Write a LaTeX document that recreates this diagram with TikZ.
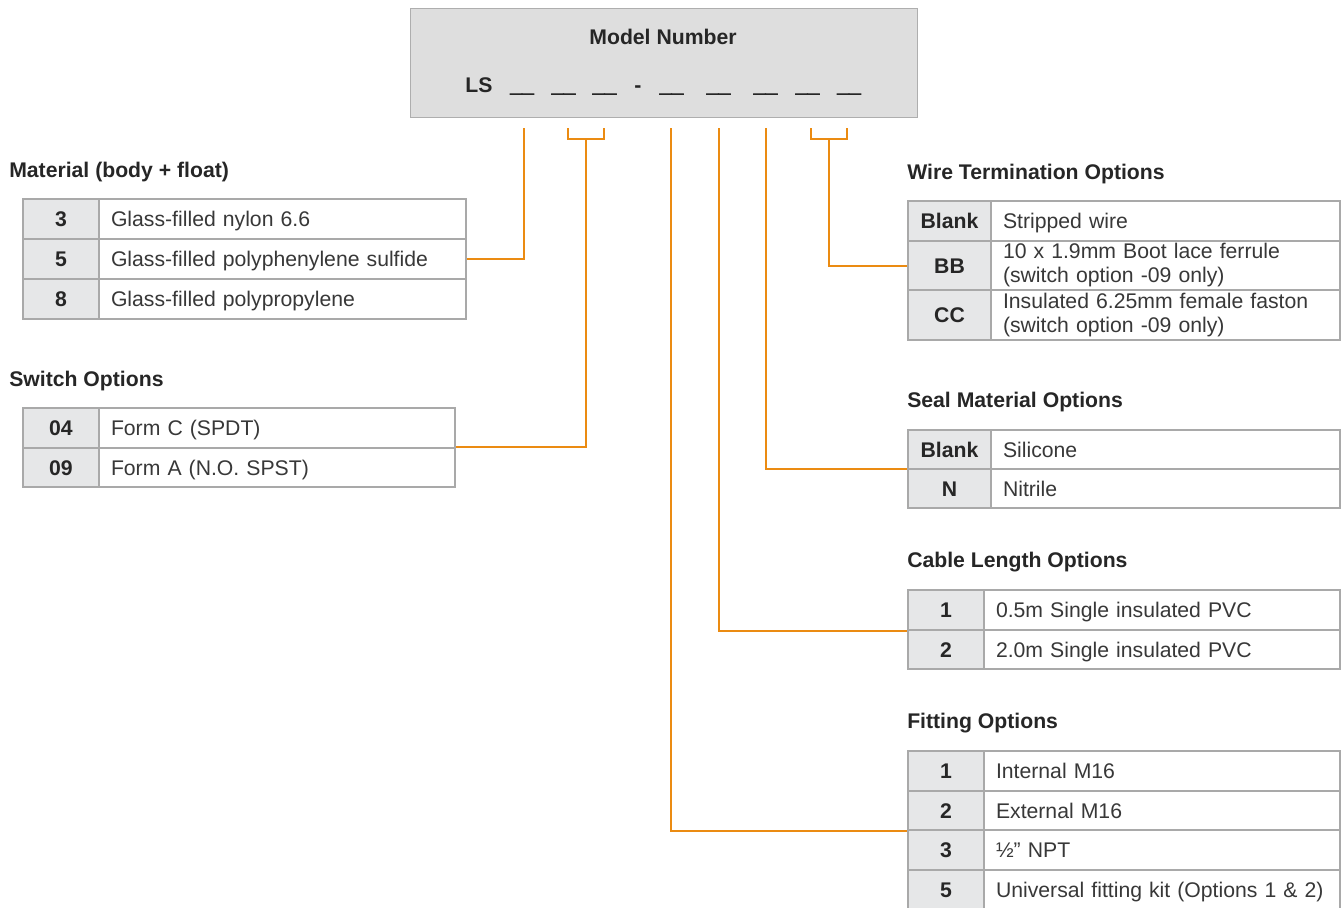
\documentclass[tikz,border=0pt]{standalone}
\usepackage{fontspec}
\setmainfont{Liberation Sans}
\newfontfamily\ulfont[FakeBold=3]{Liberation Sans Bold}
\definecolor{conncol}{HTML}{EB8B12}
\definecolor{bordercol}{HTML}{A9A9A9}
\definecolor{keyfill}{HTML}{E6E7E8}
\definecolor{boxfill}{HTML}{DEDEDE}
\definecolor{boxline}{HTML}{AEAEAE}
\definecolor{txtcol}{HTML}{383838}
\definecolor{hdrcol}{HTML}{262626}
\newcommand\fsz{\fontsize{15.9}{18}\selectfont}
\newcommand\trow[8]{%
  \pgfmathsetlengthmacro\kw{(#3-#2)*0.75pt}%
  \pgfmathsetlengthmacro\rh{(#6-#5)*0.75pt}%
  \pgfmathsetlengthmacro\tw{(#4-#3)*0.75pt-18pt}%
  \node[keycell, minimum width=\kw, minimum height=\rh, anchor=north west] (#1k) at (#2,#5) {#7};
  \node[valcell, text height=11.4pt, text depth=0pt, text width=\tw, minimum height=\rh, anchor=north west] (#1v) at (#3,#5) {#8};
}
\newcommand\trowtwo[8]{%
  \pgfmathsetlengthmacro\kw{(#3-#2)*0.75pt}%
  \pgfmathsetlengthmacro\rh{(#6-#5)*0.75pt}%
  \pgfmathsetlengthmacro\tw{(#4-#3)*0.75pt-18pt}%
  \node[keycell, minimum width=\kw, minimum height=\rh, anchor=north west] (#1k) at (#2,#5) {#7};
  \node[valcell, text width=\tw, minimum height=\rh, anchor=north west] (#1v) at (#3,#5) {#8};
}
\begin{document}
\begin{tikzpicture}[x=0.75pt,y=-0.75pt,
  keycell/.style={draw=bordercol, line width=1.5pt, fill=keyfill, inner sep=0pt,
    font=\fsz\bfseries, text=hdrcol, text height=11.4pt, text depth=0pt},
  valcell/.style={draw=bordercol, line width=1.5pt, fill=white, inner xsep=9pt, inner ysep=0pt,
    align=left, font=\fsz, text=txtcol},
  heading/.style={anchor=base west, inner sep=0pt, font=\fsz\bfseries, text=hdrcol},
  modeltxt/.style={anchor=base, inner sep=0pt, font=\fsz\bfseries, text=hdrcol},
  blank/.style={anchor=base, inner sep=0pt, font=\fsz\ulfont, text=hdrcol},
  conn/.style={draw=conncol, line width=1.5pt}]
\useasboundingbox (0,0) rectangle (1341,907);
\clip (0,0) rectangle (1341,907);

% model number box
\node[draw=boxline, fill=boxfill, line width=1.1pt, minimum width=380.25pt, minimum height=81.75pt,
  anchor=north west, inner sep=0pt] (model) at (410,8) {};
\node[modeltxt] (mtitle) at (663,44) {Model Number};
\node[modeltxt] (ls) at (479,92) {LS};
\node[blank] (b1) at (522,92) {\_\_};
\node[blank] (b2) at (563.5,92) {\_\_};
\node[blank] (b3) at (604.5,92) {\_\_};
\node[modeltxt] (dash) at (638,92) {-};
\node[blank] (b4) at (671.5,92) {\_\_};
\node[blank] (b5) at (718.5,92) {\_\_};
\node[blank] (b6) at (765.5,92) {\_\_};
\node[blank] (b7) at (807.5,92) {\_\_};
\node[blank] (b8) at (849,92) {\_\_};

% headings
\node[heading] (hmat) at (9,177) {Material (body + float)};
\node[heading] (hsw) at (9,386) {Switch Options};
\node[heading] (hwire) at (907,179) {Wire Termination Options};
\node[heading] (hseal) at (907,407) {Seal Material Options};
\node[heading] (hcab) at (907,567) {Cable Length Options};
\node[heading] (hfit) at (907,728) {Fitting Options};

% tables
\trow{m3}{22}{98}{465}{198}{238}{3}{Glass-filled nylon 6.6}
\trow{m5}{22}{98}{465}{238}{278}{5}{Glass-filled polyphenylene sulfide}
\trow{m8}{22}{98}{465}{278}{318}{8}{Glass-filled polypropylene}

\trow{s04}{22}{98}{454}{407}{447}{04}{Form C (SPDT)}
\trow{s09}{22}{98}{454}{447}{486}{09}{Form A (N.O. SPST)}

\trow{wbl}{907}{990}{1339}{200}{240}{Blank}{Stripped wire}
\trowtwo{wbb}{907}{990}{1339}{240}{289}{BB}{10 x 1.9mm Boot lace ferrule\\(switch option -09 only)}
\trowtwo{wcc}{907}{990}{1339}{289}{339}{CC}{Insulated 6.25mm female faston\\(switch option -09 only)}

\trow{sbl}{907}{990}{1339}{429}{468}{Blank}{Silicone}
\trow{sn}{907}{990}{1339}{468}{507}{N}{Nitrile}

\trow{c1}{907}{983}{1339}{589}{629}{1}{0.5m Single insulated PVC}
\trow{c2}{907}{983}{1339}{629}{668}{2}{2.0m Single insulated PVC}

\trow{f1}{907}{983}{1339}{750}{790}{1}{Internal M16}
\trow{f2}{907}{983}{1339}{790}{829}{2}{External M16}
\trow{f3}{907}{983}{1339}{829}{869}{3}{½” NPT}
\trow{f5}{907}{983}{1339}{869}{909}{5}{Universal fitting kit (Options 1 \& 2)}

% connectors
\coordinate (pmat) at (524,128);
\coordinate (pswa) at (568,128);
\coordinate (pswb) at (604,128);
\coordinate (psw) at (586,139);
\coordinate (pfit) at (671,128);
\coordinate (pcab) at (719,128);
\coordinate (pseal) at (766,128);
\coordinate (pwa) at (811,128);
\coordinate (pwb) at (847,128);
\coordinate (pw) at (829,139);

\draw[conn] (pmat) |- (m5v.east);
\draw[conn] (pswa) -- ++(0,11) -| (pswb);
\draw[conn] (psw) |- ([yshift=1.5pt]s04v.south east);
\draw[conn] (pwa) -- ++(0,11) -| (pwb);
\draw[conn] (pw) |- (wbbk.west);
\draw[conn] (pseal) |- ([yshift=0.75pt]sblk.south west);
\draw[conn] (pcab) |- (c1k.south west);
\draw[conn] (pfit) |- (f2k.south west);
\end{tikzpicture}
\end{document}
